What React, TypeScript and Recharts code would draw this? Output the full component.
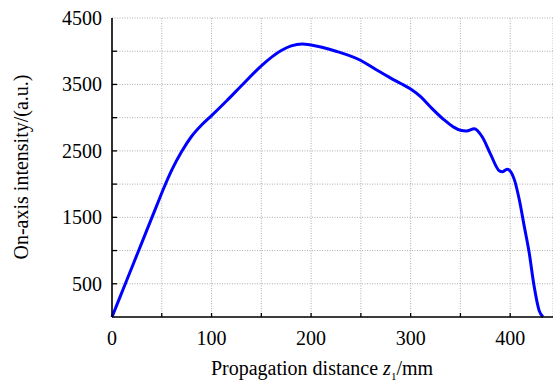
import { LineChart, Line, XAxis, YAxis, CartesianGrid } from "recharts";

// propagation distance z1 (mm)
const distance = [
  0, 15, 30, 45, 53, 60, 70, 80, 90, 100, 115, 130, 150, 170, 180, 191, 200, 225, 250, 265, 280, 290, 300,
  310, 320, 333, 343, 350, 356, 364, 372, 380, 389, 392, 397, 404, 409, 414, 419, 424, 429, 433,
];
// on-axis intensity (a.u.)
const intensity = [
  0, 560, 1120, 1680, 1975, 2210, 2490, 2720, 2890, 3030, 3250, 3480, 3780, 4010, 4080, 4110, 4095, 4000,
  3860, 3725, 3595, 3515, 3430, 3315, 3160, 2975, 2860, 2810, 2800, 2835, 2710, 2460, 2200, 2185, 2225,
  2075, 1775, 1375, 975, 465, 100, 0,
];

const xTicks = [0, 50, 100, 150, 200, 250, 300, 350, 400];
const yTicks = [0, 500, 1000, 1500, 2000, 2500, 3000, 3500, 4000, 4500];

const data = distance.map((x, i) => ({ x, y: intensity[i] }));

const FONT = '"Liberation Serif", "Times New Roman", serif';

const BottomTick = (props: any) => {
  const { x, y, payload } = props;
  const v = payload.value;
  return (
    <g>
      {v > 0 && <line x1={x} y1={y} x2={x} y2={y - 4} stroke="#000" strokeWidth={1.3} />}
      {v % 100 === 0 && (
        <text x={x} y={y + 28} textAnchor="middle" fontFamily={FONT} fontSize={20} fill="#000">
          {v}
        </text>
      )}
    </g>
  );
};

const TopTick = (props: any) => {
  const { x, y, payload } = props;
  if (payload.value === 0) return <g />;
  return <line x1={x} y1={y} x2={x} y2={y + 4} stroke="#000" strokeWidth={1.3} />;
};

const LeftTick = (props: any) => {
  const { x, y, payload } = props;
  const v = payload.value;
  return (
    <g>
      {v > 0 && v < 4500 && <line x1={x} y1={y} x2={x + 5} y2={y} stroke="#000" strokeWidth={1.3} />}
      {v % 1000 === 500 && (
        <text x={x - 10} y={y + 7} textAnchor="end" fontFamily={FONT} fontSize={20} fill="#000">
          {v}
        </text>
      )}
    </g>
  );
};

const XTitle = () => (
  <text x={322} y={375} textAnchor="middle" fontFamily={FONT} fontSize={20} fill="#000">
    Propagation distance <tspan fontStyle="italic">z</tspan>
    <tspan fontSize={11} dy={5}>1</tspan>
    <tspan dy={-5}>/mm</tspan>
  </text>
);

const YTitle = () => (
  <text
    x={28}
    y={167}
    transform="rotate(-90, 28, 167)"
    textAnchor="middle"
    fontFamily={FONT}
    fontSize={20}
    fill="#000"
  >
    On-axis intensity/(a.u.)
  </text>
);

export default function App() {
  return (
    <div style={{ position: "absolute", left: 0, top: 0, background: "#fff" }}>
      <LineChart width={553} height={381} data={data} margin={{ top: 18, right: 0, bottom: 0, left: 0 }}>
        <CartesianGrid
          xAxisId="bottom"
          stroke="#999"
          strokeDasharray="1 1.5"
          strokeWidth={0.8}
        />
        <XAxis
          xAxisId="bottom"
          dataKey="x"
          type="number"
          domain={[0, 443]}
          ticks={xTicks}
          interval={0}
          height={64}
          tickSize={0}
          tickMargin={0}
          tickLine={false}
          axisLine={{ stroke: "#000", strokeWidth: 1.6 }}
          tick={<BottomTick />}
          label={<XTitle />}
        />
        <XAxis
          xAxisId="top"
          orientation="top"
          dataKey="x"
          type="number"
          domain={[0, 443]}
          ticks={xTicks}
          interval={0}
          height={0}
          tickSize={0}
          tickMargin={0}
          tickLine={false}
          axisLine={{ stroke: "#000", strokeWidth: 1.6 }}
          tick={<TopTick />}
        />
        <YAxis
          type="number"
          domain={[0, 4500]}
          ticks={yTicks}
          interval={0}
          width={112}
          tickSize={0}
          tickMargin={0}
          tickLine={false}
          axisLine={{ stroke: "#000", strokeWidth: 1.6 }}
          tick={<LeftTick />}
          label={<YTitle />}
        />
        <Line
          xAxisId="bottom"
          type="monotone"
          dataKey="y"
          stroke="#0000ff"
          strokeWidth={3}
          dot={false}
          isAnimationActive={false}
        />
      </LineChart>
    </div>
  );
}
